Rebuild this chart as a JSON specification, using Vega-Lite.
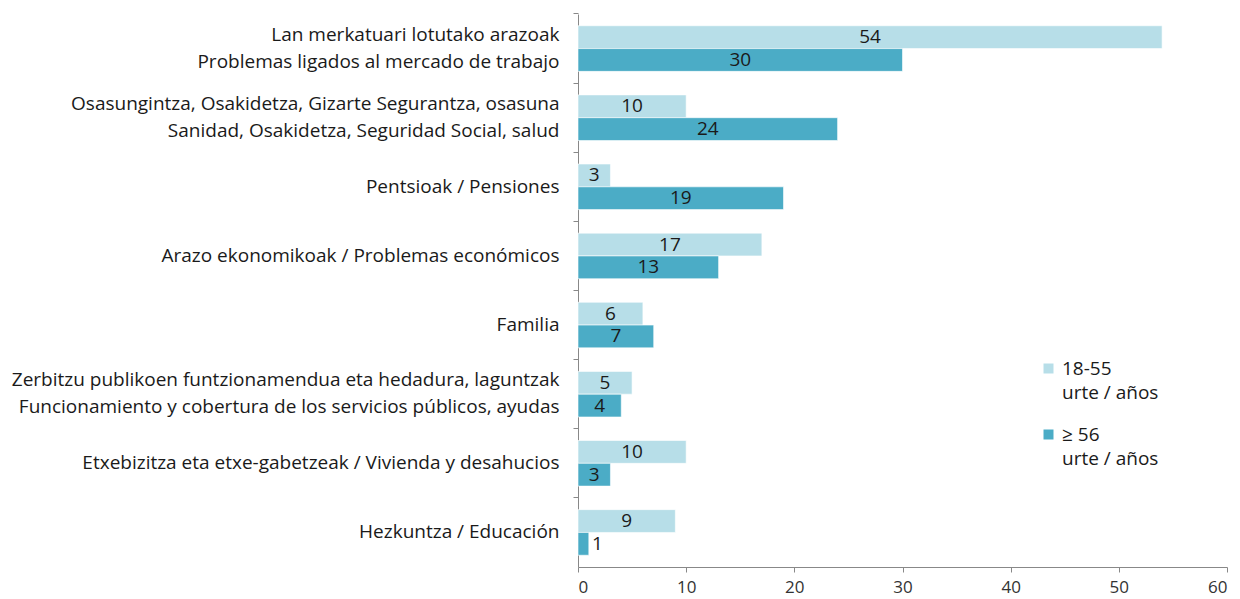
{
  "$schema": "https://vega.github.io/schema/vega-lite/v6.json",
  "width": 649,
  "height": 553,
  "autosize": {"type": "none"},
  "padding": {"left": 578, "top": 14, "right": 13, "bottom": 32},
  "background": "white",
  "config": {"font": "Open Sans", "view": {"stroke": null}, "style": {"guide-label": {"lineHeight": 24}}},
  "data": {
    "values": [
      {"cat": "Lan merkatuari lotutako arazoak|Problemas ligados al mercado de trabajo", "group": "18-55|urte / años", "value": 54},
      {"cat": "Lan merkatuari lotutako arazoak|Problemas ligados al mercado de trabajo", "group": "≥ 56|urte / años", "value": 30},
      {"cat": "Osasungintza, Osakidetza, Gizarte Segurantza, osasuna|Sanidad, Osakidetza, Seguridad Social, salud", "group": "18-55|urte / años", "value": 10},
      {"cat": "Osasungintza, Osakidetza, Gizarte Segurantza, osasuna|Sanidad, Osakidetza, Seguridad Social, salud", "group": "≥ 56|urte / años", "value": 24},
      {"cat": "Pentsioak / Pensiones", "group": "18-55|urte / años", "value": 3},
      {"cat": "Pentsioak / Pensiones", "group": "≥ 56|urte / años", "value": 19},
      {"cat": "Arazo ekonomikoak / Problemas económicos", "group": "18-55|urte / años", "value": 17},
      {"cat": "Arazo ekonomikoak / Problemas económicos", "group": "≥ 56|urte / años", "value": 13},
      {"cat": "Familia", "group": "18-55|urte / años", "value": 6},
      {"cat": "Familia", "group": "≥ 56|urte / años", "value": 7},
      {"cat": "Zerbitzu publikoen funtzionamendua eta hedadura, laguntzak|Funcionamiento y cobertura de los servicios públicos, ayudas", "group": "18-55|urte / años", "value": 5},
      {"cat": "Zerbitzu publikoen funtzionamendua eta hedadura, laguntzak|Funcionamiento y cobertura de los servicios públicos, ayudas", "group": "≥ 56|urte / años", "value": 4},
      {"cat": "Etxebizitza eta etxe-gabetzeak / Vivienda y desahucios", "group": "18-55|urte / años", "value": 10},
      {"cat": "Etxebizitza eta etxe-gabetzeak / Vivienda y desahucios", "group": "≥ 56|urte / años", "value": 3},
      {"cat": "Hezkuntza / Educación", "group": "18-55|urte / años", "value": 9},
      {"cat": "Hezkuntza / Educación", "group": "≥ 56|urte / años", "value": 1}
    ]
  },
  "encoding": {
    "y": {
      "field": "cat",
      "type": "nominal",
      "sort": null,
      "scale": {"paddingInner": 0.34, "paddingOuter": 0.17},
      "axis": {
        "title": null,
        "labelExpr": "split(datum.value, '|')",
        "labelFontSize": 19,
        "labelColor": "#1a1a1a",
        "labelLineHeight": 27,
        "labelLimit": 700,
        "labelPadding": 14,
        "labelOffset": {"condition": {"test": "indexof(datum.value, '|') >= 0", "value": -14}, "value": 0},
        "tickSize": 5,
        "bandPosition": -0.26,
        "domainColor": "#888888",
        "tickColor": "#888888",
        "grid": false
      }
    },
    "yOffset": {"field": "group", "sort": null},
    "x": {
      "field": "value",
      "type": "quantitative",
      "scale": {"domain": [0, 60]},
      "axis": {
        "title": null,
        "values": [0, 10, 20, 30, 40, 50, 60],
        "labelFontSize": 17,
        "labelColor": "#333333",
        "labelPadding": 7,
        "tickSize": 5,
        "domainColor": "#888888",
        "tickColor": "#888888",
        "grid": false
      }
    }
  },
  "layer": [
    {
      "mark": {"type": "bar", "stroke": "white", "strokeWidth": 0.6},
      "encoding": {
        "color": {
          "field": "group",
          "type": "nominal",
          "sort": null,
          "scale": {"range": ["#B7DEE8", "#4BACC6"]},
          "legend": {
            "title": null,
            "orient": "none",
            "legendX": 461,
            "legendY": 345,
            "labelExpr": "split(datum.value, '|')",
            "labelFontSize": 19,
            "labelColor": "#1a1a1a",
            "labelBaseline": "middle",
            "symbolType": "square",
            "symbolSize": 100,
            "symbolStrokeWidth": 0,
            "rowPadding": 22,
            "labelOffset": 4
          }
        }
      }
    },
    {
      "transform": [
        {"calculate": "datum.value < 2 ? datum.value + 0.8 : datum.value / 2", "as": "lx"}
      ],
      "mark": {"type": "text", "fontSize": 19, "color": "#1a1a1a", "align": "center", "baseline": "middle"},
      "encoding": {
        "x": {"field": "lx", "type": "quantitative"},
        "text": {"field": "value", "type": "quantitative"}
      }
    }
  ]
}
